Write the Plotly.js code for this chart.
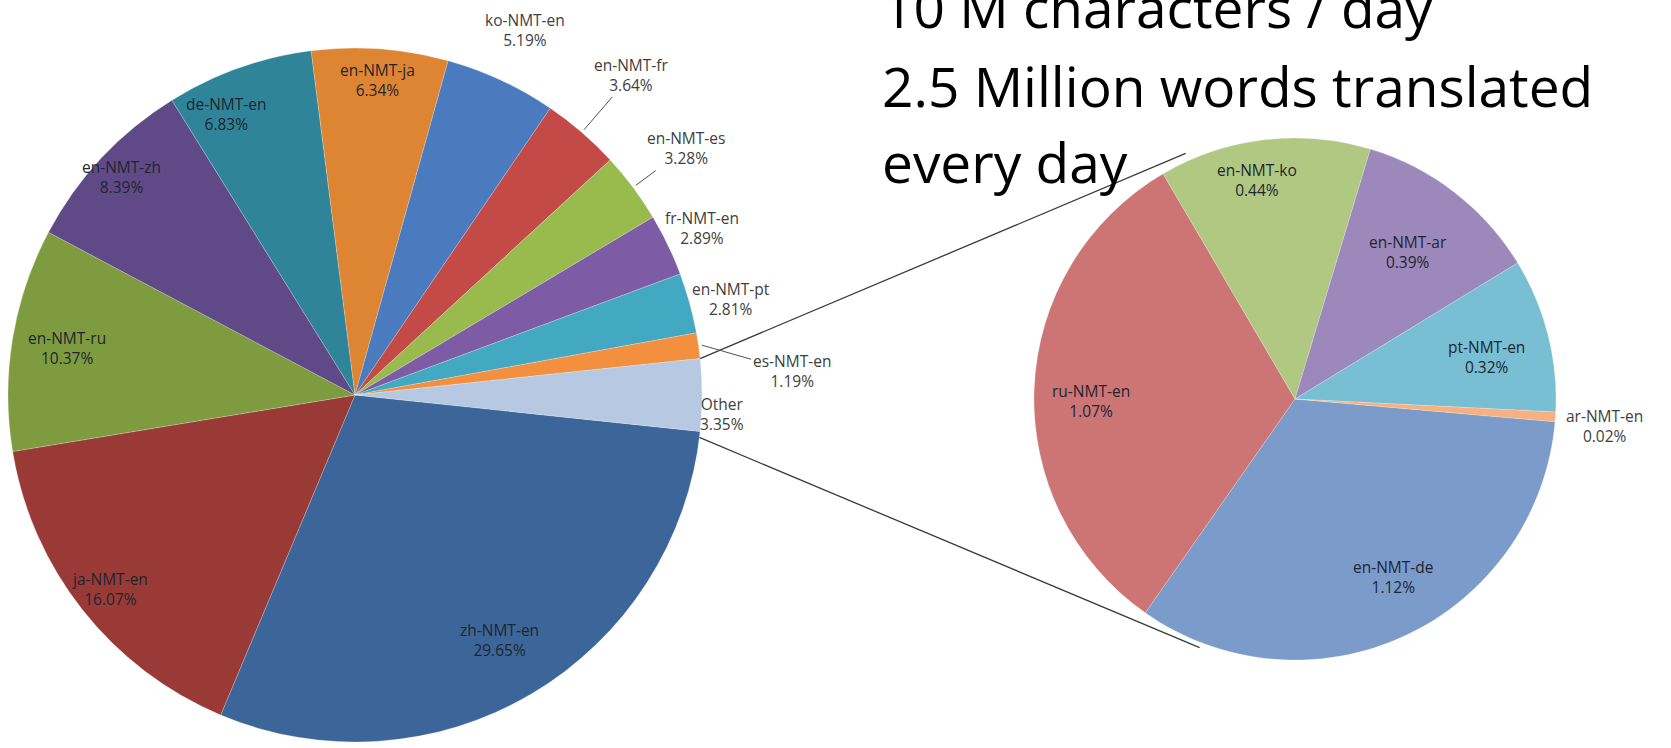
<!DOCTYPE html>
<html>
<head>
<meta charset="utf-8">
<script src="https://cdn.plot.ly/plotly-3.0.1.min.js"></script>
<style>html,body{margin:0;padding:0;background:#fff;}#chart{width:1671px;height:748px;}</style>
</head>
<body>
<div id="chart"></div>
<script>
// ---- data ----
const mainLabels = ['zh-NMT-en','ja-NMT-en','en-NMT-ru','en-NMT-zh','de-NMT-en','en-NMT-ja','ko-NMT-en','en-NMT-fr','en-NMT-es','fr-NMT-en','en-NMT-pt','es-NMT-en','Other'];
const mainValues = [29.65,16.07,10.37,8.39,6.83,6.34,5.19,3.64,3.28,2.89,2.81,1.19,3.35];

const otherLabels = ['en-NMT-de','ru-NMT-en','en-NMT-ko','en-NMT-ar','pt-NMT-en','ar-NMT-en'];
const otherValues = [1.12,1.07,0.44,0.39,0.32,0.02];

const titleLines = ['10 M characters / day','2.5 Million words translated','every day'];

// ---- styles / layout settings ----
const mainColors = ['#3C6699','#9A3A37','#7E9C3F','#5F4A87','#2F8499','#DE8533','#4A7BBE','#C34A46','#99BB4E','#7E5CA5','#43A9C3','#F39040','#B7C8E2'];
const otherColors = ['#7B9BCB','#CC7574','#B0C882','#9C88BA','#78BFD3','#F7B080'];
// label placement: radial factor, angle nudge (deg), leader line flag
const mainLabelK = [0.82,0.90,0.84,0.92,0.89,0.91,1.16,1.22,1.19,1.11,1.12,1.26,1.06];
const mainLabelDA = [0,0,0,0,-5,0,0,0,0,0,1,5,3];
const mainLeader = [0,0,0,0,0,0,0,1,1,0,0,1,0];
const otherLabelK = [0.78,0.78,0.85,0.71,0.75,1.19];
const otherLabelDA = [-4,-3,-3,0,2,1];
const otherLeader = [0,0,0,0,0,0];

const W = 1671, H = 748;
const L = {cx: 355, cy: 395, r: 347};
const R = {cx: 1295, cy: 399, r: 261};
function dom(p){ return {x:[(p.cx-p.r)/W,(p.cx+p.r)/W], y:[(H-(p.cy+p.r))/H,(H-(p.cy-p.r))/H]}; }

const total = mainValues.reduce((a,b)=>a+b,0);
const otherFrac = mainValues[mainValues.length-1]/total;
const mainRotation = 90 + otherFrac*180;
const subRotation = 95;

function scr(p, angDeg, k){
  const a = angDeg*Math.PI/180;
  return {x: p.cx + p.r*k*Math.sin(a), y: p.cy - p.r*k*Math.cos(a)};
}
function toPaper(s){ return {x: s.x/W, y: 1 - s.y/H}; }

const upA = toPaper(scr(L, 90 - otherFrac*180, 1.0));
const loA = toPaper(scr(L, 90 + otherFrac*180 + 1, 1.0));
const upB = toPaper(scr(R, -24, 1.03));
const loB = toPaper(scr(R, 201, 1.02));

function labelAnns(p, rot, labels, values, kArr, daArr, leadArr){
  const tot = values.reduce((a,b)=>a+b,0);
  let cum = 0;
  const out = [];
  values.forEach((v,i)=>{
    const mid = rot + (cum + v/2)/tot*360;
    cum += v;
    const outside = kArr[i] > 1;
    const txt = labels[i] + '<br>' + v.toFixed(2) + '%';
    const font = {family:'Open Sans, sans-serif', size:15.5, color: outside ? '#404040' : '#1f2530'};
    const lp = scr(p, mid + daArr[i], kArr[i]);
    if(leadArr[i]){
      const ep = scr(p, mid, 1.01);
      const e = toPaper(ep);
      out.push({text:txt, xref:'paper', yref:'paper', x:e.x, y:e.y, showarrow:true, arrowhead:0,
        arrowwidth:1, arrowcolor:'#505050', standoff:0, ax: lp.x - ep.x, ay: lp.y - ep.y,
        font:font, align:'center'});
    } else {
      const q = toPaper(lp);
      out.push({text:txt, xref:'paper', yref:'paper', x:q.x, y:q.y, xanchor:'center', yanchor:'middle',
        showarrow:false, font:font, align:'center'});
    }
  });
  return out;
}

const traces = [
 {type:'pie', labels:mainLabels, values:mainValues, sort:false, direction:'clockwise',
  rotation:mainRotation, domain:dom(L), marker:{colors:mainColors, line:{color:'rgba(255,255,255,0.35)', width:0.6}},
  textinfo:'none', hoverinfo:'label+value', showlegend:false},
 {type:'pie', labels:otherLabels, values:otherValues, sort:false, direction:'clockwise',
  rotation:subRotation, domain:dom(R), marker:{colors:otherColors, line:{color:'rgba(255,255,255,0.35)', width:0.6}},
  textinfo:'none', hoverinfo:'label+value', showlegend:false}
];

const lineYs = [6, 85, 162];
const titleAnns = titleLines.map((t,i)=>({
  text:t, xref:'paper', yref:'paper', x:880/W, y:1-lineYs[i]/H, xanchor:'left', yanchor:'middle',
  showarrow:false, font:{family:'Open Sans, sans-serif', size:55, color:'#000'}
}));

const annotations = titleAnns
  .concat(labelAnns(L, mainRotation, mainLabels, mainValues, mainLabelK, mainLabelDA, mainLeader))
  .concat(labelAnns(R, subRotation, otherLabels, otherValues, otherLabelK, otherLabelDA, otherLeader));

const layout = {
  width:W, height:H, margin:{l:0,r:0,t:0,b:0}, paper_bgcolor:'#fff', plot_bgcolor:'#fff',
  showlegend:false, annotations:annotations,
  shapes:[
    {type:'line', xref:'paper', yref:'paper', x0:upA.x, y0:upA.y, x1:upB.x, y1:upB.y, line:{color:'#3a3a3a', width:1.3}},
    {type:'line', xref:'paper', yref:'paper', x0:loA.x, y0:loA.y, x1:loB.x, y1:loB.y, line:{color:'#3a3a3a', width:1.3}}
  ]
};
Plotly.newPlot('chart', traces, layout, {displayModeBar:false, staticPlot:true});
</script>
</body>
</html>
